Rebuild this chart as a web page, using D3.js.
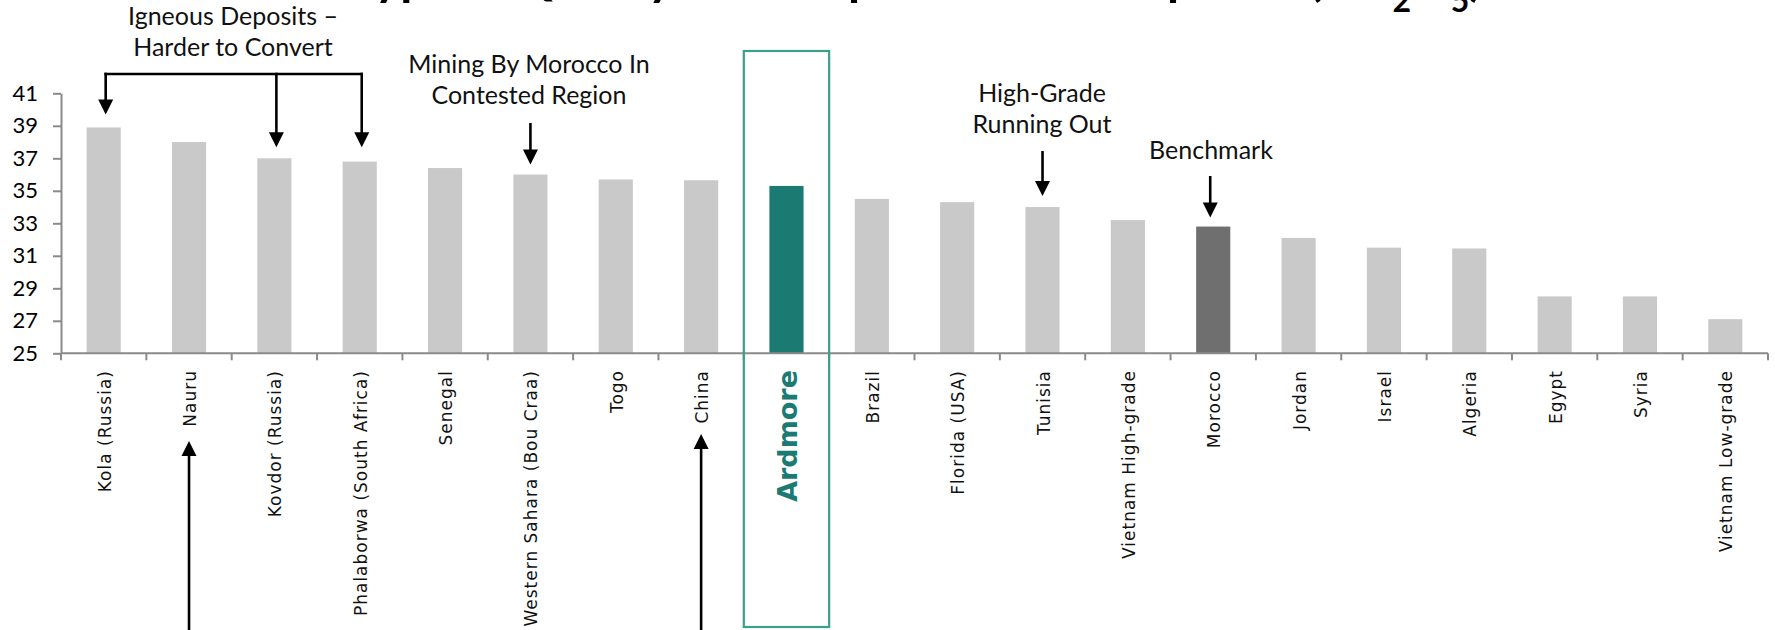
<!DOCTYPE html>
<html><head><meta charset="utf-8">
<script src="https://cdn.jsdelivr.net/npm/d3@7/dist/d3.min.js"></script>
<style>body{margin:0;background:#fff} svg{display:block}</style>
</head><body>
<svg id="c" width="1775" height="630"></svg>
<script>
// ---- data ----
const categories = ["Kola (Russia)","Nauru","Kovdor (Russia)","Phalaborwa (South Africa)","Senegal","Western Sahara (Bou Craa)","Togo","China","Ardmore","Brazil","Florida (USA)","Tunisia","Vietnam High-grade","Morocco","Jordan","Israel","Algeria","Egypt","Syria","Vietnam Low-grade"];
const values = [38.9,38.0,37.0,36.8,36.4,36.0,35.7,35.65,35.3,34.5,34.3,34.0,33.2,32.8,32.1,31.5,31.45,28.5,28.5,27.1];
const yTicks = [25,27,29,31,33,35,37,39,41];
const highlightCat = "Ardmore";
const benchmarkCat = "Morocco";
const titleParts = [["Typical Quality of Phosphate Rock Deposits (%P",0],["2",1],["O",0],["5",1],[")",0]];
const annoIgneous = ["Igneous Deposits –","Harder to Convert"];
const annoIgneousTargets = ["Kola (Russia)","Kovdor (Russia)","Phalaborwa (South Africa)"];
const annoMining = ["Mining By Morocco In","Contested Region"];
const annoHighGrade = ["High-Grade","Running Out"];
const annoBenchmark = ["Benchmark"];
const upArrowCats = ["Nauru","China"];

// ---- layout ----
const svg = d3.select("#c");
const x0 = 61, x1 = 1768, yTop = 93.3, yBase = 353.3;
const x = d3.scaleBand().domain(categories).range([x0, x1]).paddingInner(0.6).paddingOuter(0.3);
const y = d3.scaleLinear().domain([25, 41]).range([yBase, yTop]);
const cx = c => x(c) + x.bandwidth() / 2;
const step = x.step();
const axisCol = "#8a8a8a";
const teal = "#1b7b73";

// title (cropped at top as in reference)
const title = svg.append("text").attr("x", 916).attr("y", -5)
  .attr("text-anchor", "middle").attr("font-family", "Lato, 'Open Sans', sans-serif")
  .attr("font-weight", "bold").attr("font-size", 49).attr("fill", "#000");
titleParts.forEach(([t, sub], i) => {
  const ts = title.append("tspan").text(t);
  if (sub) ts.attr("font-size", 32).attr("dy", 17);
  else if (i > 0) ts.attr("dy", -17);
});

// bars
svg.append("g").selectAll("rect").data(categories).join("rect")
  .attr("x", d => x(d)).attr("width", x.bandwidth())
  .attr("y", (d, i) => y(values[i])).attr("height", (d, i) => yBase - y(values[i]))
  .attr("fill", d => d === highlightCat ? teal : d === benchmarkCat ? "#6f6f6f" : "#c9c9c9");

// y axis
const ya = svg.append("g").attr("transform", `translate(${x0},0)`)
  .call(d3.axisLeft(y).tickValues(yTicks).tickSize(8).tickPadding(15).tickSizeOuter(0));
ya.select(".domain").attr("stroke", axisCol).attr("stroke-width", 2);
ya.selectAll(".tick line").attr("stroke", axisCol).attr("stroke-width", 2);
ya.selectAll(".tick text").attr("font-family", "Lato, 'Open Sans', sans-serif").attr("font-size", 22).attr("fill", "#000");

// x axis line + boundary ticks
svg.append("line").attr("x1", x0).attr("x2", x1).attr("y1", yBase).attr("y2", yBase)
  .attr("stroke", axisCol).attr("stroke-width", 2);
svg.append("g").selectAll("line").data(d3.range(categories.length + 1)).join("line")
  .attr("x1", i => x0 + i * step).attr("x2", i => x0 + i * step)
  .attr("y1", yBase).attr("y2", yBase + 7).attr("stroke", axisCol).attr("stroke-width", 2);

// x labels
svg.append("g").selectAll("text").data(categories).join("text")
  .attr("transform", d => `translate(${cx(d) + 1},370) rotate(-90)`)
  .attr("text-anchor", "end").attr("dominant-baseline", "central")
  .attr("font-family", "'DejaVu Sans', Verdana, sans-serif")
  .attr("font-weight", d => d === highlightCat ? "bold" : "normal")
  .attr("font-size", d => d === highlightCat ? 27 : 17)
  .attr("letter-spacing", d => d === highlightCat ? 0 : 1)
  .attr("fill", d => d === highlightCat ? teal : "#111")
  .text(d => d);

// Ardmore highlight box
svg.append("rect").attr("x", x0 + categories.indexOf(highlightCat) * step).attr("y", 51)
  .attr("width", step).attr("height", 576).attr("fill", "none")
  .attr("stroke", "#3a9f8c").attr("stroke-width", 2.2);

// arrows
function arrow(xp, yFrom, yTip, dir) {
  // dir = 1 pointing down, -1 pointing up
  const h = 15, w = 7.5;
  svg.append("line").attr("x1", xp).attr("x2", xp).attr("y1", yFrom).attr("y2", yTip - dir * (h - 2))
    .attr("stroke", "#000").attr("stroke-width", 2.6);
  svg.append("path").attr("d", `M${xp},${yTip}L${xp - w},${yTip - dir * h}L${xp + w},${yTip - dir * h}Z`).attr("fill", "#000");
}
function label(lines, xc, yb, lh) {
  const t = svg.append("text").attr("text-anchor", "middle")
    .attr("font-family", "Lato, 'Open Sans', sans-serif").attr("font-size", 25).attr("fill", "#111");
  lines.forEach((l, i) => t.append("tspan").attr("x", xc).attr("y", yb + i * lh).text(l));
}

// Igneous bracket
const bracketY = 74;
const igX = annoIgneousTargets.map(c => cx(c) + 2);
svg.append("line").attr("x1", igX[0] - 1.3).attr("x2", igX[2] + 1.3).attr("y1", bracketY).attr("y2", bracketY)
  .attr("stroke", "#000").attr("stroke-width", 2.6);
annoIgneousTargets.forEach((c, i) => {
  const v = values[categories.indexOf(c)];
  const tip = i === 0 ? y(v) - 13 : y(values[categories.indexOf(annoIgneousTargets[1])]) - 11;
  arrow(igX[i], bracketY - 1.3, tip, 1);
});
label(annoIgneous, 233, 25, 31);

// Mining
const wsC = "Western Sahara (Bou Craa)";
label(annoMining, 529, 73, 31);
arrow(cx(wsC), 123, y(values[categories.indexOf(wsC)]) - 10, 1);

// High grade
label(annoHighGrade, 1042, 102, 31);
arrow(cx("Tunisia"), 151, y(values[categories.indexOf("Tunisia")]) - 11, 1);

// Benchmark
label(annoBenchmark, 1211, 159, 31);
arrow(cx(benchmarkCat) - 3, 176, y(values[categories.indexOf(benchmarkCat)]) - 9, 1);

// up arrows from bottom
upArrowCats.forEach((c, i) => arrow(cx(c), 632, i === 0 ? 441 : 434, -1));
</script>
</body></html>
